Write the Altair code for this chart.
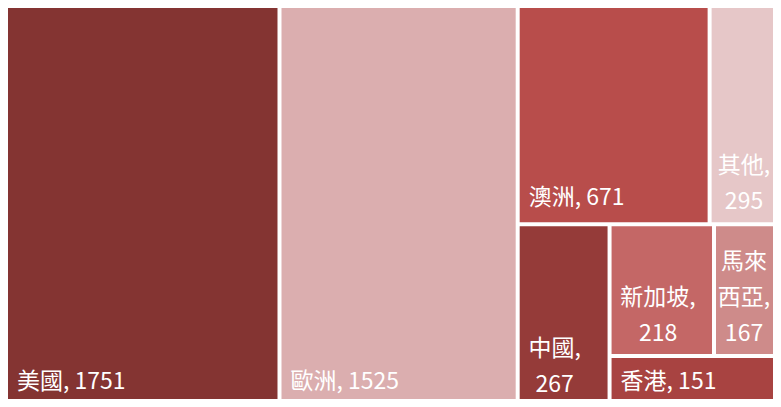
import altair as alt
import pandas as pd

# ---- data -------------------------------------------------------------
names = ["美國", "歐洲", "澳洲", "其他", "中國", "新加坡", "馬來西亞", "香港"]
values = [1751, 1525, 671, 295, 267, 218, 167, 151]
colors = ["#843432", "#DBAEAF", "#B84D4B", "#E6C7C8",
          "#953B39", "#C46766", "#CE8B8A", "#A84341"]

# treemap nesting (indices into the lists): "h" = side by side, "v" = stacked
layout_tree = ("h", [0, 1, ("v", [("h", [2, 3]),
                                  ("h", [4, ("v", [("h", [5, 6]), 7])])])])

# ---- layout parameters --------------------------------------------------
W_PLOT, H_PLOT = 765, 391
OUTER = (-2.0, -4.7, 786.0, 399.8)   # treemap extent in plot pixels (clipped by the view)
GAP = 2.0
FONT = 23
FONT_FAMILY = "Noto Sans CJK TC"
LINE_H = 36
PAD_X = 11
BASE_OFF_SINGLE = 19
BASE_OFF_MULTI = 15.5
EDGE = 3


def total(node):
    if isinstance(node, int):
        return values[node]
    return sum(total(c) for c in node[1])


cells = {}


def place(node, x0, y0, x1, y1):
    if isinstance(node, int):
        cells[node] = (x0, y0, x1, y1)
        return
    d, kids = node
    s = total(node)
    pos = x0 if d == "h" else y0
    for k in kids:
        frac = total(k) / s
        if d == "h":
            w = (x1 - x0) * frac
            place(k, pos, y0, pos + w, y1)
            pos += w
        else:
            h = (y1 - y0) * frac
            place(k, x0, pos, x1, pos + h)
            pos += h


place(layout_tree, *OUTER)


def tw(s):
    w = 0.0
    for ch in s:
        if ch.isdigit():
            w += 0.553 * FONT
        elif ch == ",":
            w += 0.26 * FONT
        elif ch == " ":
            w += 0.224 * FONT
        else:
            w += FONT
    return w


def wrap(name, val, avail):
    full = f"{name}, {val}"
    if tw(full) <= avail:
        return [full]
    lines = []
    cur = ""
    for ch in name + ",":
        if cur and tw(cur + ch) > avail:
            lines.append(cur)
            cur = ch
        else:
            cur += ch
    lines.append(cur)
    lines.append(str(val))
    return lines


rect_rows, left_rows, center_rows = [], [], []
for i, (n, v, c) in enumerate(zip(names, values, colors)):
    x0, y0, x1, y1 = cells[i]
    rect_rows.append(dict(name=n, value=v, color=c,
                          x=x0 + GAP, x2=x1 - GAP, y=y0 + GAP, y2=y1 - GAP))
    avail = (x1 - x0) - 2 * PAD_X
    lines = wrap(n, v, avail)
    if len(lines) == 1:
        left_rows.append(dict(t=lines[0], x=x0 + PAD_X, y=y1 - BASE_OFF_SINGLE))
    else:
        bw = min(avail, max(tw(l) for l in lines))
        cx = x0 + PAD_X + bw / 2
        cx = min(cx, W_PLOT - EDGE - bw / 2)   # keep the label inside the visible view
        k = len(lines)
        for j, l in enumerate(lines):
            center_rows.append(dict(t=l, x=cx,
                                    y=y1 - BASE_OFF_MULTI - (k - 1 - j) * LINE_H))

rect_df = pd.DataFrame(rect_rows)
left_df = pd.DataFrame(left_rows)
center_df = pd.DataFrame(center_rows)

xs = alt.Scale(domain=[0, W_PLOT], nice=False, zero=False)
ys = alt.Scale(domain=[0, H_PLOT], nice=False, zero=False, reverse=True)

rects = alt.Chart(rect_df).mark_rect(clip=True).encode(
    x=alt.X("x:Q", scale=xs, axis=None),
    x2="x2:Q",
    y=alt.Y("y:Q", scale=ys, axis=None),
    y2="y2:Q",
    color=alt.Color("color:N", scale=None, legend=None),
    tooltip=["name:N", "value:Q"],
)

text_left = alt.Chart(left_df).mark_text(
    align="left", baseline="alphabetic", font=FONT_FAMILY, fontSize=FONT,
    color="white",
).encode(
    x=alt.X("x:Q", scale=xs, axis=None),
    y=alt.Y("y:Q", scale=ys, axis=None),
    text="t:N",
)

text_center = alt.Chart(center_df).mark_text(
    align="center", baseline="alphabetic", font=FONT_FAMILY, fontSize=FONT,
    color="white",
).encode(
    x=alt.X("x:Q", scale=xs, axis=None),
    y=alt.Y("y:Q", scale=ys, axis=None),
    text="t:N",
)

chart = alt.layer(rects, text_left, text_center).properties(
    width=W_PLOT, height=H_PLOT, padding=0, background="white"
).configure_view(strokeWidth=0)

chart.save("out.html", embed_options={"renderer": "svg", "actions": False})
